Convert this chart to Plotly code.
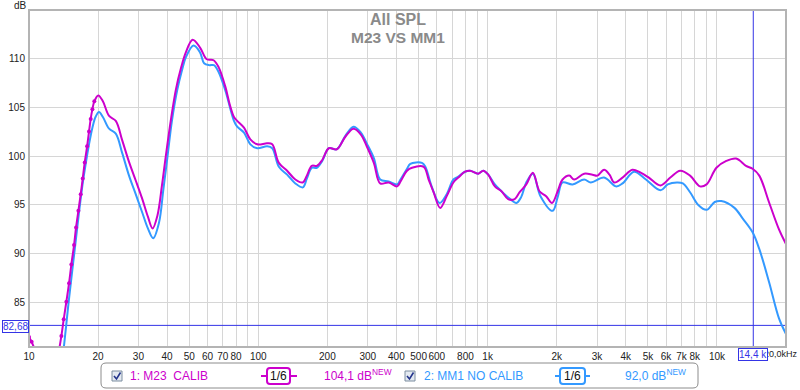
import plotly.graph_objects as go
import numpy as np

# ---------------- data ----------------
m23_freq = [10.0, 10.27, 10.6, 11.5, 12.5, 13.2,
            13.84, 14.17, 14.55, 14.95, 15.30, 15.72, 16.04, 16.42, 16.81, 17.15,
            17.50, 17.92, 18.27, 18.58, 18.9, 19.27,
            20.05, 21.0, 22.35, 23.9, 25.5, 27.3, 29.2, 31.2, 33.0, 34.6, 36.3, 38.0,
            39.5, 41.5, 43.7, 46.0, 48.3, 51.7, 55.7, 59.6, 63.8, 67.1, 71.8, 75.0,
            78.3, 80.9, 86.6, 92.3, 98.9, 109.3, 115, 122.9, 133.5, 145, 156.4, 162.8,
            171, 180, 190, 203, 220, 240, 260, 280, 297, 319, 340, 370, 403, 417, 445,
            468, 526, 553, 581, 621, 663, 709, 745, 797, 838, 910, 957, 1006, 1075,
            1149, 1228, 1312, 1379, 1474, 1575, 1683, 1799, 1909, 2020, 2122, 2270,
            2385, 2636, 2865, 3012, 3219, 3400, 3566, 3873, 4277, 4646, 5046, 5671,
            6262, 6914, 7633, 8428, 9009, 9946, 10981, 12124, 13386, 14300, 15290,
            16880, 18640, 20000]
m23_db = [81.5, 81.0, 80.2, 78.5, 77.5, 79.0,
          81.6, 83.3, 85.1, 87.0, 88.9, 90.9, 92.7, 94.4, 96.1, 97.7,
          99.35, 101.0, 102.5, 103.8, 104.8, 105.6,
          106.2, 105.6, 104.1, 103.6, 101.6, 99.4, 97.5, 95.6, 93.8, 92.6, 93.9, 97.0,
          100.0, 103.6, 106.8, 109.0, 110.6, 111.9, 111.1, 109.9, 109.8, 109.1, 107.1, 105.3,
          104.0, 103.6, 102.9, 101.7, 101.2, 101.3, 101.2, 99.3, 98.5, 97.6, 97.3, 98.0,
          99.0, 99.0, 99.6, 100.8, 100.7, 102.0, 102.8, 102.2, 101.0, 99.3, 97.2, 97.3, 96.9, 97.4, 98.5,
          98.8, 98.9, 97.6, 96.3, 94.7, 95.9, 97.3, 97.8, 98.4, 98.5, 98.2, 98.5, 98.1, 96.9,
          96.4, 95.6, 95.6, 96.3, 97.1, 98.3, 96.4, 95.9, 95.2, 96.4, 97.6, 98.0,
          97.6, 98.2, 98.1, 98.0, 98.6, 98.1, 97.3, 97.8, 98.6, 98.3, 97.8, 97.0,
          97.8, 98.5, 98.0, 96.9, 97.1, 98.8, 99.5, 99.75, 99.0, 98.7, 98.0,
          95.25, 92.5, 91.0]

mm1_freq = [13.6, 14.2, 14.8, 15.46, 16.0, 16.5, 17.1, 17.7, 18.3, 18.9, 19.5, 20.2,
            21.0, 22.35, 23.9, 25.5, 27.3, 29.2, 31.2, 33.0, 34.8, 36.9, 38.5, 40.2,
            42.0, 44.3, 46.5, 48.3, 52.2, 55.7, 58.0, 61.0, 64.0, 67.1, 71.8, 78.3,
            80.9, 86.6, 92.3, 98.9, 109.3, 115, 122.9, 133.5, 145, 156.4, 162.8, 171,
            180, 190, 203, 220, 240, 260, 280, 297, 319, 340, 370, 403, 417, 445, 460,
            517, 535, 570, 617, 663, 709, 745, 797, 838, 910, 957, 1006, 1075, 1149,
            1240, 1335, 1400, 1474, 1575, 1700, 1920, 2020, 2122, 2345, 2636, 2818,
            3219, 3625, 3873, 4348, 4900, 5671, 6100, 6689, 7100, 7633, 8290, 9009,
            9778, 10440, 11920, 12960, 14300, 15290, 16880, 18640, 20000]
mm1_db = [77.0, 80.5, 84.5, 88.4, 91.4, 94.1, 97.0, 99.3, 101.3, 102.9, 104.0, 104.5,
          104.0, 102.8, 102.3, 100.3, 98.0, 96.1, 94.2, 92.6, 91.6, 93.2, 96.5, 100.0,
          103.6, 106.75, 108.8, 110.1, 111.3, 110.6, 109.5, 109.3, 109.3, 108.6, 106.7, 103.6,
          103.0, 102.4, 101.2, 100.8, 101.0, 100.8, 98.9, 98.1, 97.2, 96.8, 97.7, 98.8,
          98.8, 99.5, 100.8, 100.7, 102.1, 103.0, 102.4, 101.3, 99.8, 97.6, 97.4, 97.1, 97.6, 98.7, 99.2,
          99.3, 98.9, 96.9, 95.2, 96.1, 97.6, 97.9, 98.4, 98.5, 98.2, 98.5, 98.1, 97.1, 96.4,
          95.7, 95.2, 95.8, 97.3, 98.2, 95.9, 94.4, 95.8, 97.3, 97.1, 97.6, 97.3,
          97.8, 96.9, 97.2, 98.4, 97.6, 96.5, 97.1, 97.3, 97.2, 96.3, 95.0, 94.5,
          95.3, 95.4, 94.7, 93.6, 92.2, 90.5, 87.1, 83.4, 81.8]

x_tick_vals = [10, 20, 30, 40, 50, 60, 70, 80, 90, 100, 200, 300, 400, 500, 600, 700, 800, 900,
               1000, 2000, 3000, 4000, 5000, 6000, 7000, 8000, 9000, 10000, 20000]
x_tick_text = ["10", "20", "30", "40", "50", "60", "70", "80", "", "100", "200", "300", "400",
               "500", "600", "", "800", "", "1k", "2k", "3k", "4k", "5k", "6k", "7k", "8k", "",
               "10k", ""]
y_tick_vals = [85, 90, 95, 100, 105, 110]

cursor_freq = 14400
cursor_db = 82.68
x_range = [10, 20000]
y_range = [80.47, 114.94]

MAG = "#cc00cc"
BLU = "#3399ff"
CUR = "#3434e6"
FONT = "Liberation Sans Narrow, Liberation Sans, Arial, sans-serif"

# pixel -> paper helpers (plot area 29..786 x 10..347)
PL, PR, PT, PB = 29, 786, 10, 347
def px(x):
    return (x - PL) / (PR - PL)
def py(y):
    return (PB - y) / (PB - PT)

fig = go.Figure()

# cursor lines
fig.add_trace(go.Scatter(x=x_range, y=[cursor_db, cursor_db], mode="lines",
                         line=dict(color=CUR, width=1), hoverinfo="skip", showlegend=False))
fig.add_trace(go.Scatter(x=[cursor_freq, cursor_freq], y=y_range, mode="lines",
                         line=dict(color=CUR, width=1), hoverinfo="skip", showlegend=False))

fig.add_trace(go.Scatter(x=mm1_freq, y=mm1_db, mode="lines", line=dict(color=BLU, width=2),
                         line_shape="spline", showlegend=False))
fig.add_trace(go.Scatter(x=m23_freq, y=m23_db, mode="lines", line=dict(color=MAG, width=2),
                         line_shape="spline", showlegend=False))
low = [i for i, f in enumerate(m23_freq) if f < 19.5]
fig.add_trace(go.Scatter(x=[m23_freq[i] for i in low], y=[m23_db[i] for i in low],
                         mode="markers", marker=dict(color=MAG, size=4), showlegend=False))

shapes = []
annotations = []

def note(text, x, y, size=10, color="#222", xa="center", ya="middle", family=FONT, **kw):
    annotations.append(dict(text=text, xref="paper", yref="paper", x=px(x), y=py(y),
                            xanchor=xa, yanchor=ya, showarrow=False,
                            font=dict(family=family, size=size, color=color), **kw))

# plot frame
shapes.append(dict(type="rect", xref="paper", yref="paper", x0=0, x1=1, y0=0, y1=1,
                   line=dict(color="#b4b4b4", width=2), layer="above"))

# title
note("<b>All SPL</b>", 398, 19, size=16, color="#8a8a8a", family="Liberation Sans, Arial")
note("<b>M23 VS MM1</b>", 398, 37.5, size=15.5, color="#8a8a8a", family="Liberation Sans, Arial")

# axis unit labels
note("dB", 20, 5)
note("20,0k", 788, 354, size=9, xa="right", borderpad=0)
note("Hz", 799, 354, size=9, xa="right", borderpad=0)

# cursor labels
note("82,68", 15.5, 326.5, color=CUR, bgcolor="white", bordercolor=CUR, borderwidth=1, borderpad=0)
note("14,4 k", 753, 354, color=CUR, bgcolor="white", bordercolor=CUR, borderwidth=1, borderpad=0)

# legend box
def rrect(x0, y0, x1, y1, r):
    X = lambda v: px(v)
    Y = lambda v: py(v)
    return (f"M {X(x0+r)} {Y(y0)} L {X(x1-r)} {Y(y0)} Q {X(x1)} {Y(y0)} {X(x1)} {Y(y0+r)} "
            f"L {X(x1)} {Y(y1-r)} Q {X(x1)} {Y(y1)} {X(x1-r)} {Y(y1)} "
            f"L {X(x0+r)} {Y(y1)} Q {X(x0)} {Y(y1)} {X(x0)} {Y(y1-r)} "
            f"L {X(x0)} {Y(y0+r)} Q {X(x0)} {Y(y0)} {X(x0+r)} {Y(y0)} Z")

shapes.append(dict(type="path", xref="paper", yref="paper", path=rrect(101, 363, 698, 388, 5),
                   line=dict(color="#8c8c8c", width=1), fillcolor="white"))

def checkbox(x):
    shapes.append(dict(type="rect", xref="paper", yref="paper", x0=px(x), x1=px(x + 10),
                       y0=py(381), y1=py(371), line=dict(color="#7d8ea0", width=1), fillcolor="#e3e9f1"))
    shapes.append(dict(type="path", xref="paper", yref="paper",
                       path=f"M {px(x+2)} {py(376)} L {px(x+4.5)} {py(379)} L {px(x+8.5)} {py(372.5)}",
                       line=dict(color="#24358c", width=1.6)))

def filt(x0, x1, b0, b1, col):
    shapes.append(dict(type="line", xref="paper", yref="paper", x0=px(x0), x1=px(x1),
                       y0=py(376), y1=py(376), line=dict(color=col, width=2)))
    shapes.append(dict(type="path", xref="paper", yref="paper", path=rrect(b0, 368, b1, 384, 3),
                       line=dict(color=col, width=2), fillcolor="white"))
    note("1/6", (b0 + b1) / 2, 376, size=12, color="#111")

checkbox(112)
note("1: M23  CALIB", 128, 376, size=12, color=MAG, xa="left")
filt(261, 297, 267, 290, MAG)
note("104,1 dB<sup>NEW</sup>", 322, 375, size=12, color=MAG, xa="left")
checkbox(405)
note("2: MM1 NO CALIB", 422, 376, size=12, color=BLU, xa="left")
filt(555, 590, 560, 585, BLU)
note("92,0 dB<sup>NEW</sup>", 623, 375, size=12, color=BLU, xa="left")

fig.update_layout(
    width=800, height=390,
    margin=dict(l=PL, r=800 - PR, t=PT, b=390 - PB, autoexpand=False),
    paper_bgcolor="white", plot_bgcolor="white",
    showlegend=False,
    shapes=shapes, annotations=annotations,
    font=dict(family=FONT, size=10, color="#222"),
    xaxis=dict(type="log", range=[np.log10(x_range[0]), np.log10(x_range[1])],
               tickvals=x_tick_vals, ticktext=x_tick_text, showgrid=True, gridcolor="#d6d6d6",
               gridwidth=1, zeroline=False, showline=False, ticks="", ticklabelstandoff=2,
               tickangle=0, automargin=False,
               tickfont=dict(family=FONT, size=10, color="#222")),
    yaxis=dict(range=y_range, tickvals=y_tick_vals, showgrid=True, gridcolor="#d6d6d6",
               gridwidth=1, zeroline=False, showline=False, ticks="", ticklabelstandoff=3,
               automargin=False,
               tickfont=dict(family=FONT, size=10, color="#222")),
)

fig.write_html("out.html", config={"displayModeBar": False},
               post_script="document.body.style.margin='0';document.body.style.overflow='hidden';")
